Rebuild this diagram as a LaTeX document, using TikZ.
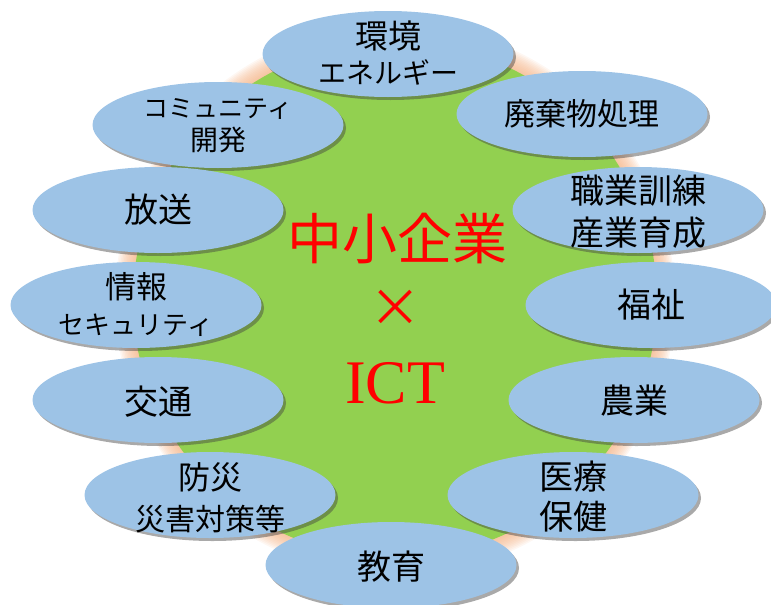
\documentclass[tikz,border=0pt]{standalone}
\usepackage{fontspec}
\setmainfont{Liberation Serif}
\newfontfamily\jp{Noto Sans CJK JP}
\usetikzlibrary{shapes.geometric,shadows}
\definecolor{bubblecol}{HTML}{9DC3E6}
\definecolor{fieldcol}{HTML}{92D050}
\definecolor{glowcol}{HTML}{F4B183}
\newcommand{\fsz}[1]{\fontsize{#1}{#1}\selectfont}
\begin{document}
\begin{tikzpicture}[x=1pt,y=-1pt,
  bubble/.style={ellipse, fill=bubblecol, minimum width=251pt, minimum height=86pt, inner sep=0pt,
    drop shadow={shadow xshift=2.5pt, shadow yshift=-3pt, opacity=0.45, fill=black!75}},
  txt/.style={inner sep=0pt, anchor=base, text=black, font=\jp\fsz{#1}},
  core/.style={inner sep=0pt, text=red}]
\useasboundingbox (0,0) rectangle (771,605);
% glow and field
\foreach \d in {18,16.5,...,1.5}{
  \fill[glowcol, opacity=0.1] (395,300) ellipse [x radius=262pt+\d pt, y radius=258pt+\d pt];
}
\fill[fieldcol] (395,300) ellipse [x radius=262pt, y radius=258pt];
% bubbles
\node[bubble] (env) at (388,54) {};
\node[bubble] (com) at (218,125) {};
\node[bubble] (waste) at (582,114) {};
\node[bubble] (broad) at (158,210) {};
\node[bubble] (train) at (638,210) {};
\node[bubble] (sec) at (136,305) {};
\node[bubble] (welf) at (651,305) {};
\node[bubble] (traf) at (158,400) {};
\node[bubble] (agri) at (634,400) {};
\node[bubble] (dis) at (210,495) {};
\node[bubble] (med) at (573,495) {};
\node[bubble] (edu) at (391,565) {};
% texts (anchored at baseline)
\node[txt=33] (env1) at (388,48.5) {環境};
\node[txt=28] (env2) at (388,83.5) {エネルギー};
\node[txt=25] (com1) at (218,117.5) {コミュニティ};
\node[txt=28] (com2) at (218,150.5) {開発};
\node[txt=31] (waste1) at (582,125.8) {廃棄物処理};
\node[txt=34] (broad1) at (158,222) {放送};
\node[txt=34] (train1) at (638,203) {職業訓練};
\node[txt=34] (train2) at (638,245) {産業育成};
\node[txt=31] (sec1) at (136,298.8) {情報};
\node[txt=26] (sec2) at (136,334) {セキュリティ};
\node[txt=34] (welf1) at (651,317) {福祉};
\node[txt=34] (traf1) at (158,414) {交通};
\node[txt=34] (agri1) at (634,413) {農業};
\node[txt=32] (dis1) at (210,489) {防災};
\node[txt=30] (dis2) at (210,530.4) {災害対策等};
\node[txt=34] (med1) at (573,489) {医療};
\node[txt=34] (med2) at (573,529) {保健};
\node[txt=34] (edu1) at (391,579) {教育};
% core
\node[core, font=\jp\fsz{55}, anchor=base] (sme) at (397,259) {中小企業};
\node[core, font=\jp\fsz{52}] (times) at (395,308) {×};
\node[core, font=\fsz{62}, anchor=base] (ict) at (395,403) {ICT};
\end{tikzpicture}
\end{document}
